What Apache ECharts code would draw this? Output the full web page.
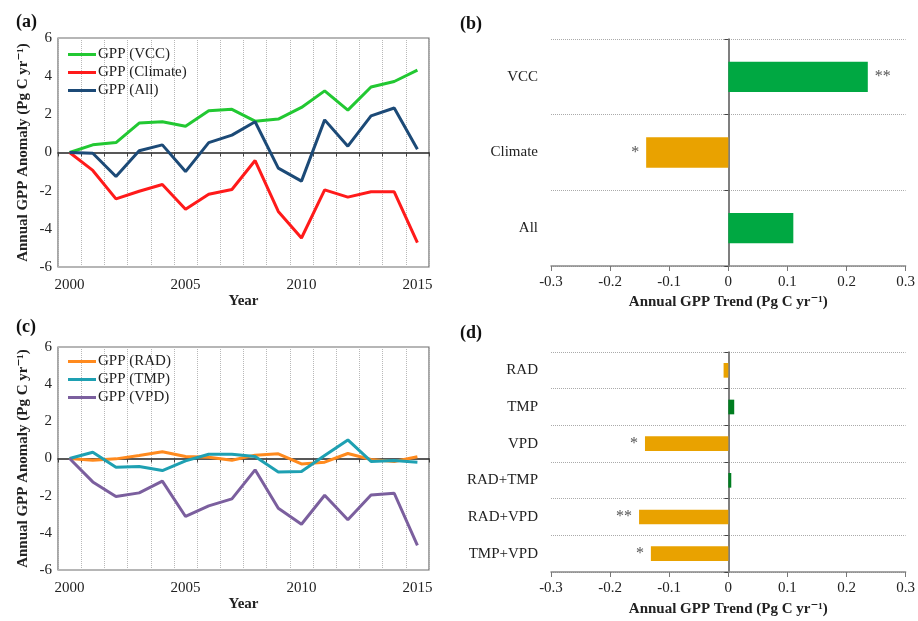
<!DOCTYPE html>
<html><head><meta charset="utf-8">
<script src="https://cdn.jsdelivr.net/npm/echarts@6/dist/echarts.min.js"></script>
<style>html,body{margin:0;padding:0;background:#fff}#c{width:918px;height:621px}</style>
</head><body><div id="c"></div>
<script>
// ---- data ----
const years = ['2000','2001','2002','2003','2004','2005','2006','2007','2008','2009','2010','2011','2012','2013','2014','2015'];
const gppVCC     = [0, 0.40, 0.52, 1.54, 1.61, 1.38, 2.19, 2.26, 1.64, 1.75, 2.36, 3.23, 2.22, 3.43, 3.72, 4.32];
const gppClimate = [0, -0.94, -2.43, -2.03, -1.68, -2.97, -2.19, -1.94, -0.42, -3.09, -4.48, -1.96, -2.34, -2.06, -2.06, -4.72];
const gppAll     = [0, -0.04, -1.26, 0.09, 0.40, -1.00, 0.52, 0.91, 1.61, -0.82, -1.50, 1.71, 0.33, 1.92, 2.33, 0.17];
const gppRAD     = [0, -0.09, -0.02, 0.16, 0.36, 0.11, 0.07, -0.09, 0.18, 0.25, -0.29, -0.20, 0.27, -0.05, -0.16, 0.09];
const gppTMP     = [0, 0.34, -0.47, -0.43, -0.65, -0.13, 0.23, 0.23, 0.11, -0.72, -0.70, 0.16, 1.00, -0.16, -0.11, -0.20];
const gppVPD     = [0, -1.26, -2.05, -1.85, -1.22, -3.12, -2.55, -2.17, -0.61, -2.68, -3.54, -1.98, -3.30, -1.96, -1.87, -4.67];
const trendCatsB = ['VCC', 'Climate', 'All'];
const trendValsB = [0.236, -0.139, 0.110];
const trendSigB  = ['**', '*', ''];
const trendCatsD = ['RAD', 'TMP', 'VPD', 'RAD+TMP', 'RAD+VPD', 'TMP+VPD'];
const trendValsD = [-0.008, 0.010, -0.141, 0.005, -0.151, -0.131];
const trendSigD  = ['', '', '*', '', '**', '*'];
const seriesNamesA = ['GPP (VCC)', 'GPP (Climate)', 'GPP (All)'];
const seriesNamesC = ['GPP (RAD)', 'GPP (TMP)', 'GPP (VPD)'];

// ---- styling ----
const FONT = '"Liberation Serif", "DejaVu Serif", serif';
const yName = 'Annual GPP Anomaly (Pg C yr\u207B\u00B9)';
const xNameTrend = 'Annual GPP Trend (Pg C yr\u207B\u00B9)';
const txt = { fontFamily: FONT, fontSize: 15, color: '#222' };
const nameTxt = { fontFamily: FONT, fontSize: 15, fontWeight: 'bold', color: '#222' };

function yearAxis(grid, nameGap) {
  return {
    type: 'category', gridIndex: grid, data: years, boundaryGap: true,
    axisLine: { show: false, onZero: false },
    axisTick: { show: false },
    axisLabel: Object.assign({ interval: 4, margin: 11 }, txt),
    splitLine: { show: true, interval: 0, lineStyle: { color: '#b8b8b8', type: 'dotted', width: 1 } },
    name: 'Year', nameLocation: 'middle', nameGap: nameGap, nameTextStyle: nameTxt
  };
}
function zeroAxisX(grid) {
  return {
    type: 'category', gridIndex: grid, data: years, boundaryGap: true, position: 'bottom',
    axisLine: { show: true, onZero: true, lineStyle: { color: '#222', width: 1.5 } },
    axisTick: { show: true, interval: 0, length: 4, lineStyle: { color: '#444' } },
    axisLabel: { show: false }, splitLine: { show: false }
  };
}
function anomAxis(grid) {
  return {
    type: 'value', gridIndex: grid, min: -6, max: 6, interval: 2,
    axisLine: { show: false }, axisTick: { show: false },
    axisLabel: Object.assign({ margin: 6 }, txt),
    splitLine: { show: false },
    name: yName, nameLocation: 'middle', nameGap: 27, nameTextStyle: nameTxt
  };
}
function trendAxisX(grid, nameGap) {
  return {
    type: 'value', gridIndex: grid, min: -0.3, max: 0.3, interval: 0.1,
    axisLine: { show: true, onZero: false, lineStyle: { color: '#888', width: 1.5 } },
    axisTick: { show: true, length: 5, lineStyle: { color: '#777' } },
    axisLabel: Object.assign({ margin: 9, formatter: v => String(Math.round(v * 10) / 10) }, txt),
    splitLine: { show: false },
    name: xNameTrend, nameLocation: 'middle', nameGap: nameGap, nameTextStyle: nameTxt
  };
}
function catAxisY(grid, cats) {
  return {
    type: 'category', gridIndex: grid, data: cats, inverse: true,
    axisLine: { show: false, onZero: false }, axisTick: { show: false },
    axisLabel: Object.assign({ margin: 13 }, txt),
    splitLine: { show: true, interval: 0, lineStyle: { color: '#aaa', type: 'dotted', width: 1 } }
  };
}
function zeroAxisY(grid, cats) {
  return {
    type: 'category', gridIndex: grid, data: cats, inverse: true, position: 'left',
    axisLine: { show: true, onZero: true, lineStyle: { color: '#555', width: 1.5 } },
    axisTick: { show: true, interval: 0, length: 4, lineStyle: { color: '#444' } },
    axisLabel: { show: false }, splitLine: { show: false }
  };
}
function lineSeries(name, data, color, xi, yi) {
  return { type: 'line', name: name, data: data, xAxisIndex: xi, yAxisIndex: yi,
    symbol: 'none', lineStyle: { color: color, width: 3 }, itemStyle: { color: color },
    z: 5, animation: false };
}
function barSeries(vals, sig, xi, yi, posColor, negColor) {
  return {
    type: 'bar', xAxisIndex: xi, yAxisIndex: yi, barWidth: '40%', animation: false,
    data: vals.map(v => ({ value: v, label: { position: v >= 0 ? 'right' : 'left' } })),
    itemStyle: { color: p => (p.value >= 0 ? posColor : negColor) },
    label: { show: true, distance: 7, fontFamily: FONT, fontSize: 16, color: '#555',
      formatter: p => sig[p.dataIndex] }
  };
}
function legend(names, top) {
  return { data: names, orient: 'vertical', left: 68, top: top, padding: 0,
    itemWidth: 28, itemHeight: 14, itemGap: 3, icon: 'path://M0,6L28,6L28,9L0,9Z',
    textStyle: { fontFamily: FONT, fontSize: 15, color: '#222', padding: [0, 0, 0, -3] } };
}
const plab = (t, l, tp) => ({ text: t, left: l, top: tp, textStyle: { fontFamily: FONT, fontSize: 18, fontWeight: 'bold', color: '#111' } });

const colors = { vcc: '#22c832', climate: '#ff1a1a', all: '#1c4a77', rad: '#ff8a1e', tmp: '#1ea0b2', vpd: '#7b5f9e',
  barGreen: '#00a842', barGreenD: '#007d20', barOrange: '#e9a200' };

const option = {
  backgroundColor: '#fff',
  animation: false,
  title: [plab('(a)', 11, 8), plab('(b)', 455, 10), plab('(c)', 11, 313), plab('(d)', 455, 319)],
  grid: [
    { left: 58, top: 38, width: 371, height: 229, show: true, borderColor: '#6e6e6e', borderWidth: 1.2 },
    { left: 58, top: 347, width: 371, height: 223, show: true, borderColor: '#6e6e6e', borderWidth: 1.2 },
    { left: 551, top: 39, width: 357, height: 227 },
    { left: 551, top: 352, width: 357, height: 220 }
  ],
  xAxis: [ yearAxis(0, 23), zeroAxisX(0), yearAxis(1, 26), zeroAxisX(1), trendAxisX(2, 29), trendAxisX(3, 30) ],
  yAxis: [ anomAxis(0), anomAxis(1), catAxisY(2, trendCatsB), zeroAxisY(2, trendCatsB), catAxisY(3, trendCatsD), zeroAxisY(3, trendCatsD) ],
  legend: [ legend(seriesNamesA, 47), legend(seriesNamesC, 354) ],
  series: [
    lineSeries(seriesNamesA[0], gppVCC, colors.vcc, 0, 0),
    lineSeries(seriesNamesA[1], gppClimate, colors.climate, 0, 0),
    lineSeries(seriesNamesA[2], gppAll, colors.all, 0, 0),
    lineSeries(seriesNamesC[0], gppRAD, colors.rad, 2, 1),
    lineSeries(seriesNamesC[1], gppTMP, colors.tmp, 2, 1),
    lineSeries(seriesNamesC[2], gppVPD, colors.vpd, 2, 1),
    barSeries(trendValsB, trendSigB, 4, 2, colors.barGreen, colors.barOrange),
    barSeries(trendValsD, trendSigD, 5, 4, colors.barGreenD, colors.barOrange)
  ]
};
const chart = echarts.init(document.getElementById('c'), null, { renderer: 'canvas' });
chart.setOption(option);
</script></body></html>
